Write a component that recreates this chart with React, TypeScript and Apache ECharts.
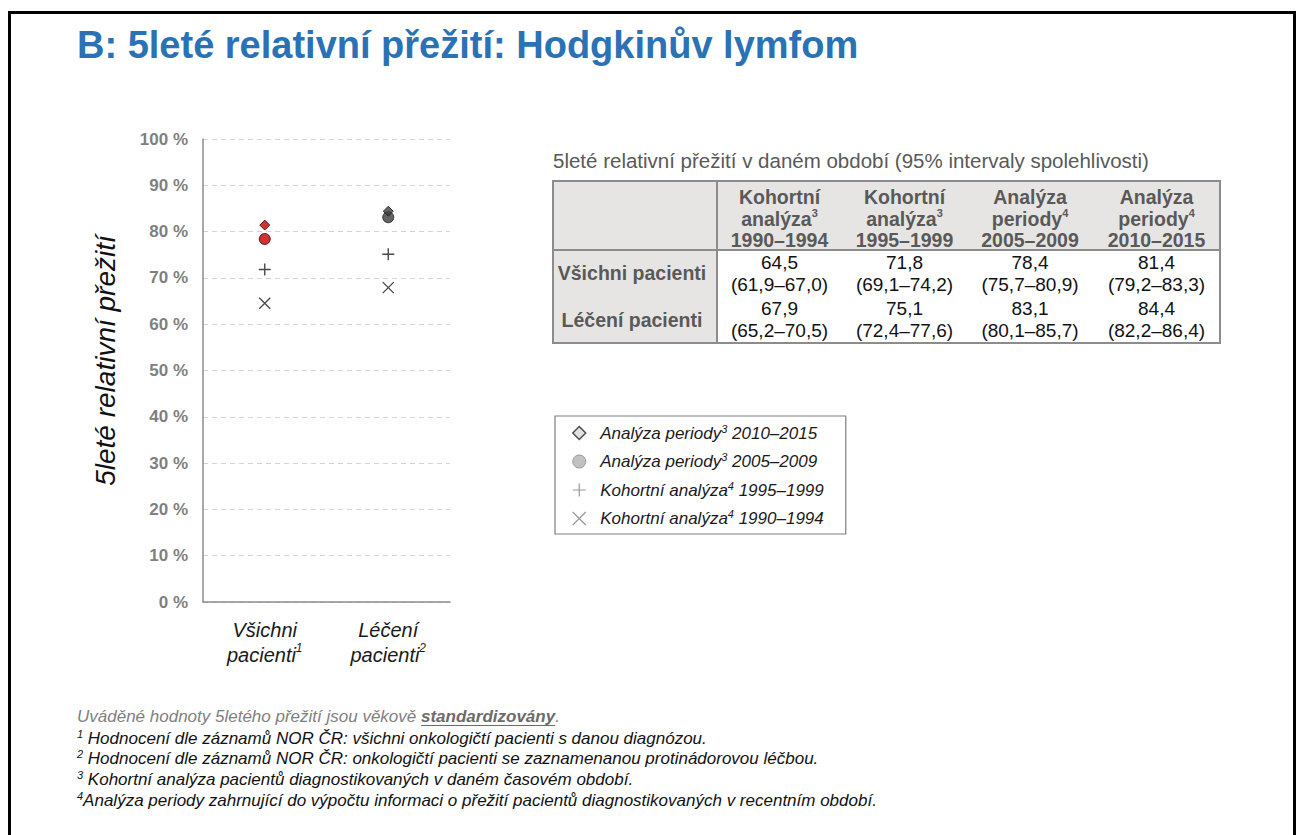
import React, { useEffect, useRef } from "react";
import * as echarts from "echarts";

// ---------- data ----------
const categories = ["Všichni pacienti", "Léčení pacienti"];
const categorySup = ["1", "2"];
const periods = ["1990–1994", "1995–1999", "2005–2009", "2010–2015"];
const periodTypes = ["Kohortní analýza", "Kohortní analýza", "Analýza periody", "Analýza periody"];
const tableSup = ["3", "3", "4", "4"];
const legendSup = ["4", "4", "3", "3"];
const allPatients = [64.5, 71.8, 78.4, 81.4];
const allPatientsLow = [61.9, 69.1, 75.7, 79.2];
const allPatientsHigh = [67.0, 74.2, 80.9, 83.3];
const treatedPatients = [67.9, 75.1, 83.1, 84.4];
const treatedLow = [65.2, 72.4, 80.1, 82.2];
const treatedHigh = [70.5, 77.6, 85.7, 86.4];
const yMin = 0;
const yMax = 100;
const yInterval = 10;

const titleText = "B: 5leté relativní přežití: Hodgkinův lymfom";
const yAxisTitle = "5leté relativní přežití";
const tableTitle = "5leté relativní přežití v daném období (95% intervaly spolehlivosti)";
const footPrefix = "Uváděné hodnoty 5letého přežití jsou věkově ";
const footBold = "standardizovány";
const footnotes = [
  ["1", "Hodnocení dle záznamů NOR ČR: všichni onkologičtí pacienti s danou diagnózou."],
  ["2", "Hodnocení dle záznamů NOR ČR: onkologičtí pacienti se zaznamenanou protinádorovou léčbou."],
  ["3", "Kohortní analýza pacientů diagnostikovaných v daném časovém období."],
  ["4", "Analýza periody zahrnující do výpočtu informaci o přežití pacientů diagnostikovaných v recentním období."],
];

const FONT = "'Liberation Sans', Arial, Helvetica, sans-serif";
const fmt = (v: number) => v.toFixed(1).replace(".", ",");

const PATH_X = "path://M0,0L10,10M10,0L0,10";
const PATH_PLUS = "path://M0,5L10,5M5,0L5,10";
const PATH_DIAMOND = "path://M5,0L10,5L5,10L0,5Z";

export default function App() {
  const ref = useRef<HTMLDivElement>(null);

  useEffect(() => {
    const chart = echarts.init(ref.current!, null, { renderer: "svg" });

    const seriesName = (i: number) => `${periodTypes[i]} ${periods[i]}`;

    const pointStyle = (i: number, c: number) => {
      if (i <= 1) return { color: "#1a1a1a", borderColor: "#1a1a1a", borderWidth: 1.4 };
      return c === 0
        ? { color: "#c00000", borderColor: "#3a0000", borderWidth: 1 }
        : { color: "#3c3c3c", borderColor: "#1c1c1c", borderWidth: 1 };
    };
    const symbols = [PATH_X, PATH_PLUS, "circle", "diamond"];
    const sizes = [11, 12, 11, 10];
    const legendIcons = [PATH_X, PATH_PLUS, "circle", PATH_DIAMOND];
    const legendStyles = [
      { color: "#808080", borderColor: "#808080", borderWidth: 1.2 },
      { color: "#808080", borderColor: "#808080", borderWidth: 1.2 },
      { color: "#b3b3b3", borderColor: "#8c8c8c", borderWidth: 1 },
      { color: "#d9d9d9", borderColor: "#262626", borderWidth: 1.5 },
    ];

    const series = [0, 1, 2, 3].map((i) => ({
      type: "scatter",
      name: seriesName(i),
      symbol: symbols[i],
      symbolSize: sizes[i],
      z: 2 + i,
      itemStyle: legendStyles[i],
      data: [allPatients[i], treatedPatients[i]].map((v, c) => ({ value: v, itemStyle: pointStyle(i, c) })),
    }));

    // ---------- table ----------
    const colEdges = [553, 717, 842, 967, 1093, 1220];
    const rowEdges = [181, 250, 296, 343];
    const gray = "#e6e5e3";
    const borderC = "#8c8c8c";
    const g: any[] = [];
    g.push({
      type: "rect",
      shape: { x: 9.5, y: 12.5, width: 1285, height: 900 },
      style: { fill: "none", stroke: "#000", lineWidth: 3 },
      silent: true,
    });
    g.push({
      type: "text",
      x: 77,
      y: 45,
      style: { text: titleText, fontFamily: FONT, fontSize: 38, fontWeight: "bold", fill: "#2a72b5", textVerticalAlign: "middle" },
    });
    g.push({
      type: "text",
      x: 553,
      y: 160,
      style: { text: tableTitle, fontFamily: FONT, fontSize: 20.5, fill: "#595959", textVerticalAlign: "middle" },
    });
    g.push({ type: "rect", shape: { x: colEdges[0], y: rowEdges[0], width: colEdges[5] - colEdges[0], height: rowEdges[1] - rowEdges[0] }, style: { fill: gray } });
    g.push({ type: "rect", shape: { x: colEdges[0], y: rowEdges[1], width: colEdges[1] - colEdges[0], height: rowEdges[3] - rowEdges[1] }, style: { fill: gray } });
    g.push({ type: "rect", shape: { x: colEdges[0], y: rowEdges[0], width: colEdges[5] - colEdges[0], height: rowEdges[3] - rowEdges[0] }, style: { fill: "none", stroke: borderC, lineWidth: 2 } });
    g.push({ type: "line", shape: { x1: colEdges[0], y1: rowEdges[1], x2: colEdges[5], y2: rowEdges[1] }, style: { stroke: borderC, lineWidth: 2 } });
    g.push({ type: "line", shape: { x1: colEdges[1], y1: rowEdges[0], x2: colEdges[1], y2: rowEdges[3] }, style: { stroke: borderC, lineWidth: 2 } });
    periods.forEach((p, i) => {
      const [w1, w2] = periodTypes[i].split(" ");
      g.push({
        type: "text",
        x: (colEdges[i + 1] + colEdges[i + 2]) / 2,
        y: 218.5,
        style: {
          text: `{h|${w1}}\n{h|${w2}}{s|${tableSup[i]}}\n{h|${p}}`,
          textAlign: "center",
          textVerticalAlign: "middle",
          rich: {
            h: { fontFamily: FONT, fontSize: 19.5, fontWeight: "bold", fill: "#595959", lineHeight: 21.5 },
            s: { fontFamily: FONT, fontSize: 11, fontWeight: "bold", fill: "#595959", lineHeight: 13, verticalAlign: "top" },
          },
        },
      });
    });
    const rowsData = [
      [allPatients, allPatientsLow, allPatientsHigh],
      [treatedPatients, treatedLow, treatedHigh],
    ];
    rowsData.forEach((rd, r) => {
      const cy = (rowEdges[r + 1] + rowEdges[r + 2]) / 2;
      g.push({
        type: "text",
        x: (colEdges[0] + colEdges[1]) / 2 - 3,
        y: cy,
        style: { text: categories[r], fontFamily: FONT, fontSize: 19.5, fontWeight: "bold", fill: "#595959", textAlign: "center", textVerticalAlign: "middle" },
      });
      periods.forEach((_, i) => {
        g.push({
          type: "text",
          x: (colEdges[i + 1] + colEdges[i + 2]) / 2,
          y: cy,
          style: {
            text: `${fmt(rd[0][i])}\n(${fmt(rd[1][i])}–${fmt(rd[2][i])})`,
            fontFamily: FONT,
            fontSize: 19,
            lineHeight: 22,
            fill: "#111",
            textAlign: "center",
            textVerticalAlign: "middle",
          },
        });
      });
    });

    // ---------- footnotes ----------
    const FS = 17;
    const ctx = document.createElement("canvas").getContext("2d")!;
    ctx.font = `italic ${FS}px ${FONT}`;
    const prefW = ctx.measureText(footPrefix).width;
    ctx.font = `italic bold ${FS}px ${FONT}`;
    const boldW = ctx.measureText(footBold).width;
    const fx = 77;
    g.push({
      type: "text",
      x: fx,
      y: 716,
      style: {
        text: `{g|${footPrefix}}{b|${footBold}}{g|.}`,
        textVerticalAlign: "middle",
        rich: {
          g: { fontFamily: FONT, fontSize: FS, fontStyle: "italic", fill: "#808080" },
          b: { fontFamily: FONT, fontSize: FS, fontStyle: "italic", fontWeight: "bold", fill: "#6b6b6b" },
        },
      },
    });
    g.push({ type: "line", shape: { x1: fx + prefW, y1: 725.5, x2: fx + prefW + boldW, y2: 725.5 }, style: { stroke: "#6b6b6b", lineWidth: 1.2 } });
    const footY = [738, 758.5, 779, 800];
    footnotes.forEach(([sup, t], k) => {
      g.push({
        type: "text",
        x: fx,
        y: footY[k],
        style: {
          text: `{s|${sup}}{t|${k < 3 ? " " : ""}${t}}`,
          textVerticalAlign: "middle",
          rich: {
            t: { fontFamily: FONT, fontSize: FS, fontStyle: "italic", fill: "#111", lineHeight: 20 },
            s: { fontFamily: FONT, fontSize: 11, fontStyle: "italic", fill: "#111", lineHeight: 12, verticalAlign: "top" },
          },
        },
      });
    });

    const legendOrder = [3, 2, 1, 0];

    const option: any = {
      animation: false,
      backgroundColor: "#ffffff",
      textStyle: { fontFamily: FONT },
      grid: { left: 203, top: 139, right: 850, bottom: 233, containLabel: false },
      xAxis: {
        type: "category",
        data: categories,
        boundaryGap: true,
        axisLine: { show: true, lineStyle: { color: "#8c8c8c", width: 1.5 } },
        axisTick: { show: false },
        splitLine: { show: false },
        axisLabel: {
          margin: 15,
          interval: 0,
          formatter: (v: string, idx: number) => {
            const [a, b] = v.split(" ");
            return `{t|${a}}\n{t|${b}}{s|${categorySup[idx]}}`;
          },
          rich: {
            t: { fontFamily: FONT, fontSize: 20, fontStyle: "italic", color: "#1a1a1a", lineHeight: 25 },
            s: { fontFamily: FONT, fontSize: 12, fontStyle: "italic", color: "#1a1a1a", lineHeight: 14, verticalAlign: "top" },
          },
        },
      },
      yAxis: {
        type: "value",
        min: yMin,
        max: yMax,
        interval: yInterval,
        name: yAxisTitle,
        nameLocation: "middle",
        nameRotate: 90,
        nameGap: 84,
        nameTextStyle: { fontFamily: FONT, fontSize: 28, fontStyle: "italic", color: "#111", padding: [0, 0, 0, 20] },
        axisLine: { show: true, lineStyle: { color: "#8c8c8c", width: 1.5 } },
        axisTick: { show: false },
        splitLine: { show: true, lineStyle: { color: "#d4d4d4", type: [5, 4], width: 1.2 } },
        axisLabel: { margin: 15, formatter: "{value} %", fontFamily: FONT, fontSize: 17, fontWeight: "bold", color: "#7f7f7f" },
      },
      legend: {
        orient: "vertical",
        left: 555,
        top: 416,
        padding: [7, 22, 7, 17],
        itemGap: 10,
        itemWidth: 32,
        itemHeight: 13,
        borderColor: "#7f7f7f",
        borderWidth: 1.2,
        selectedMode: false,
        data: legendOrder.map((i) => ({ name: seriesName(i), icon: legendIcons[i], itemStyle: legendStyles[i] })),
        formatter: (name: string) => {
          const i = [0, 1, 2, 3].find((k) => seriesName(k) === name)!;
          return `{t|${periodTypes[i]}}{s|${legendSup[i]}}{t| ${periods[i]}}`;
        },
        textStyle: {
          rich: {
            t: { fontFamily: FONT, fontSize: 17, fontStyle: "italic", color: "#1a1a1a", lineHeight: 20 },
            s: { fontFamily: FONT, fontSize: 11, fontStyle: "italic", color: "#1a1a1a", lineHeight: 12, verticalAlign: "top" },
          },
        },
      },
      series,
      graphic: g,
    };
    chart.setOption(option);
    return () => chart.dispose();
  }, []);

  return (
    <div
      ref={ref}
      style={{ position: "fixed", left: 0, top: 0, width: 1300, height: 835, background: "#fff" }}
    />
  );
}
